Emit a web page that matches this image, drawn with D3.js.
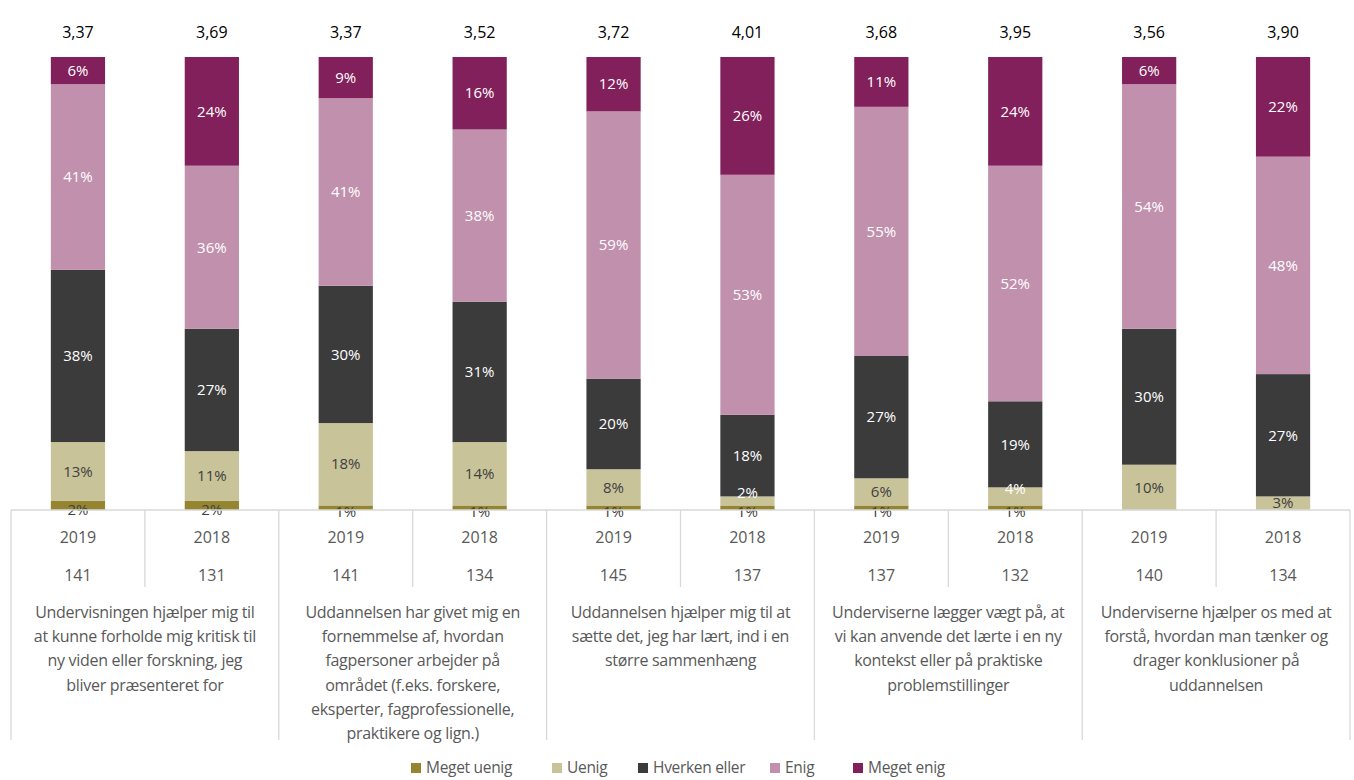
<!DOCTYPE html>
<html>
<head>
<meta charset="utf-8">
<script src="https://cdn.jsdelivr.net/npm/d3@7"></script>
<style>
  body { margin: 0; background: #fff; }
  text { font-family: "Open Sans", sans-serif; }
</style>
</head>
<body>
<script>
// data
const years = ["2019", "2018", "2019", "2018", "2019", "2018", "2019", "2018", "2019", "2018"];
const counts = [141, 131, 141, 134, 145, 137, 137, 132, 140, 134];
const means = ["3,37", "3,69", "3,37", "3,52", "3,72", "4,01", "3,68", "3,95", "3,56", "3,90"];
const series = ["Meget uenig", "Uenig", "Hverken eller", "Enig", "Meget enig"];
const megetUenig = [2, 2, 1, 1, 1, 1, 1, 1, 0, 0];
const uenig = [13, 11, 18, 14, 8, 2, 6, 4, 10, 3];
const hverken = [38, 27, 30, 31, 20, 18, 27, 19, 30, 27];
const enig = [41, 36, 41, 38, 59, 53, 55, 52, 54, 48];
const megetEnig = [6, 24, 9, 16, 12, 26, 11, 24, 6, 22];
const groups = [
  ["Undervisningen hjælper mig til", "at kunne forholde mig kritisk til", "ny viden eller forskning, jeg", "bliver præsenteret for"],
  ["Uddannelsen har givet mig en", "fornemmelse af, hvordan", "fagpersoner arbejder på", "området (f.eks. forskere,", "eksperter, fagprofessionelle,", "praktikere og lign.)"],
  ["Uddannelsen hjælper mig til at", "sætte det, jeg har lært, ind i en", "større sammenhæng"],
  ["Underviserne lægger vægt på, at", "vi kan anvende det lærte i en ny", "kontekst eller på praktiske", "problemstillinger"],
  ["Underviserne hjælper os med at", "forstå, hvordan man tænker og", "drager konklusioner på", "uddannelsen"]
];

const colors = ["#968530", "#c9c39a", "#3b3b3b", "#c190ad", "#82205b"];
const labelColors = ["#404040", "#404040", "#ffffff", "#ffffff", "#ffffff"];

const width = 1354, height = 780;
const plotTop = 57, plotBottom = 510, left = 11, right = 1350;

const svg = d3.create("svg").attr("width", width).attr("height", height);

const rows = years.map((y, i) => ({
  idx: i,
  "Meget uenig": megetUenig[i], "Uenig": uenig[i], "Hverken eller": hverken[i],
  "Enig": enig[i], "Meget enig": megetEnig[i]
}));

const x = d3.scaleBand().domain(d3.range(years.length)).range([left, right]).padding(0);
const y = d3.scaleLinear().domain([0, 1]).range([plotBottom, plotTop]);
const barW = x.bandwidth() * 0.405;

const stacked = d3.stack().keys(series).offset(d3.stackOffsetExpand)(rows);

// bars
stacked.forEach((layer, si) => {
  svg.append("g").selectAll("rect").data(layer).join("rect")
    .attr("x", d => x(d.data.idx) + (x.bandwidth() - barW) / 2)
    .attr("width", barW)
    .attr("y", d => y(d[1]))
    .attr("height", d => y(d[0]) - y(d[1]))
    .attr("fill", colors[si]);
});

// segment labels (small bottom ones nudged like excel does)
stacked.forEach((layer, si) => {
  const crowded = d => si === 1 && d.data[series[1]] < 5 && d.data[series[0]] > 0;
  svg.append("g").selectAll("text").data(layer.filter(d => d.data[series[si]] > 0)).join("text")
    .attr("x", d => x(d.data.idx) + x.bandwidth() / 2)
    .attr("y", d => {
      const c = (y(d[0]) + y(d[1])) / 2;
      if (si === 0) return c + 4;
      if (crowded(d)) return c - 8;
      return c;
    })
    .attr("dy", "0.35em")
    .attr("text-anchor", "middle")
    .attr("font-size", 15)
    .attr("fill", d => crowded(d) ? "#ffffff" : labelColors[si])
    .text(d => d.data[series[si]] + "%");
});

// means above bars
svg.append("g").selectAll("text").data(means).join("text")
  .attr("x", (d, i) => x(i) + x.bandwidth() / 2)
  .attr("y", 32)
  .attr("dy", "0.35em")
  .attr("text-anchor", "middle")
  .attr("font-size", 16)
  .attr("fill", "#000")
  .text(d => d);

// category table lines
const grid = svg.append("g").attr("stroke", "#d9d9d9").attr("stroke-width", 1.3);
grid.append("line").attr("x1", left).attr("x2", right).attr("y1", plotBottom).attr("y2", plotBottom);
d3.range(years.length + 1).forEach(i => {
  const xx = i < years.length ? x(i) : right;
  const major = i % 2 === 0;
  grid.append("line")
    .attr("x1", xx).attr("x2", xx)
    .attr("y1", plotBottom).attr("y2", major ? 740 : 587);
});

// year and n rows
svg.append("g").selectAll("text").data(years).join("text")
  .attr("x", (d, i) => x(i) + x.bandwidth() / 2)
  .attr("y", 537).attr("dy", "0.35em")
  .attr("text-anchor", "middle").attr("font-size", 16).attr("fill", "#595959")
  .text(d => d);
svg.append("g").selectAll("text").data(counts).join("text")
  .attr("x", (d, i) => x(i) + x.bandwidth() / 2)
  .attr("y", 575).attr("dy", "0.35em")
  .attr("text-anchor", "middle").attr("font-size", 16).attr("fill", "#595959")
  .text(d => d);

// group labels
groups.forEach((lines, g) => {
  const cx = x(g * 2 + 1);
  const t = svg.append("text")
    .attr("text-anchor", "middle").attr("font-size", 16).attr("fill", "#595959")
    .attr("letter-spacing", "-0.3px");
  lines.forEach((ln, k) => {
    t.append("tspan").attr("x", cx).attr("y", 618 + k * 24.2).text(ln);
  });
});

// legend
const legend = svg.append("g").attr("transform", "translate(0,768)");
const legX = [411, 552, 638, 770, 853];
series.forEach((s, i) => {
  legend.append("rect").attr("x", legX[i]).attr("y", -5).attr("width", 10).attr("height", 10).attr("fill", colors[i]);
  legend.append("text").attr("x", legX[i] + 15).attr("y", 0).attr("dy", "0.35em")
    .attr("font-size", 15.5).attr("letter-spacing", "-0.3px")
    .attr("fill", "#595959").text(s);
});

d3.select("body").append(() => svg.node());
</script>
</body>
</html>
